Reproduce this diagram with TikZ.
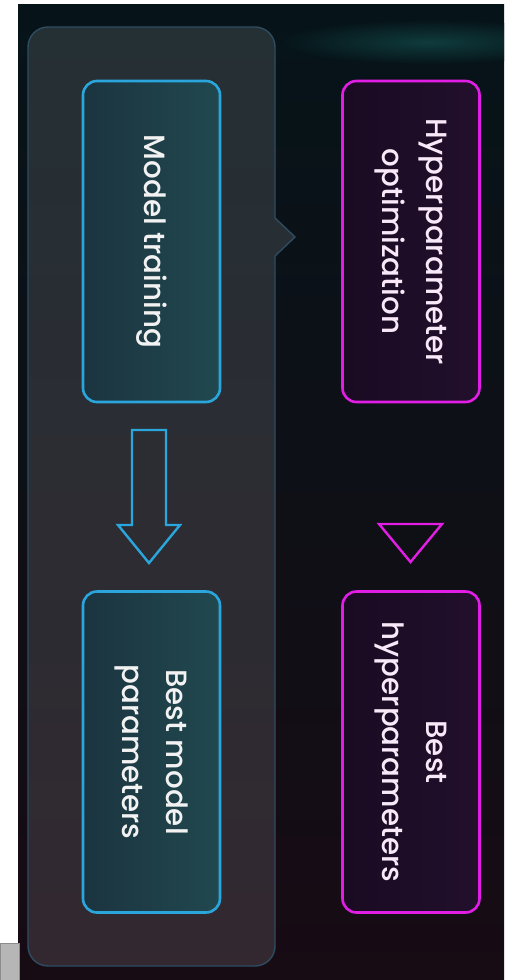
\documentclass[tikz,border=0pt]{standalone}
\usepackage{fontspec}
\setmainfont{Poppins}[UprightFont={* Medium}]
\definecolor{bgtop}{HTML}{061419}
\definecolor{bgbot}{HTML}{170B14}
\definecolor{glow}{HTML}{0F3B3C}
\definecolor{framec}{HTML}{2E4C60}
\definecolor{cyanline}{HTML}{2AA6DC}
\definecolor{magline}{HTML}{E21EE6}
\definecolor{tealL}{HTML}{1B3440}
\definecolor{tealM}{HTML}{26545A}
\definecolor{tealR}{HTML}{21484F}
\definecolor{purpL}{HTML}{1A0A22}
\definecolor{purpR}{HTML}{22102C}
\definecolor{textc}{HTML}{F2F2F2}
\definecolor{ptextc}{HTML}{F8E8F8}
\tikzset{
  label font/.style={font=\fontsize{29.3}{44}\selectfont, align=center},
  cyanbox/.style={draw=cyanline, line width=2.6pt, rounded corners=14pt,
    rotate=-90, minimum width=321pt, minimum height=137pt, inner sep=0pt,
    left color=tealL, middle color=tealM, right color=tealR, text=textc, label font},
  magbox/.style={draw=magline, line width=2.6pt, rounded corners=14pt,
    rotate=-90, minimum width=321pt, minimum height=137pt, inner sep=0pt,
    left color=purpL, right color=purpR, text=ptextc, label font},
  frame/.style={draw=framec, line width=1.4pt, fill=white, fill opacity=0.12},
  blockarrow/.style={draw=cyanline, line width=2.4pt, line join=miter},
  tri/.style={draw=magline, line width=2.4pt, line join=miter},
}
\begin{document}
\begin{tikzpicture}[x=1pt,y=1pt]
  % page and dark backdrop
  \fill[white] (0,0) rectangle (516,-980);
  \useasboundingbox (0,0) rectangle (516,-980);
  \shade[top color=bgtop, bottom color=bgbot] (18,-4) rectangle (504,-980);
  \begin{scope}
    \clip (18,-4) rectangle (504,-980);
    \shade[inner color=glow, outer color=bgtop] (430,-42) ellipse (150pt and 22pt);
  \end{scope}
  % corner tab
  \draw[fill={rgb,255:red,182;green,182;blue,182}, draw={rgb,255:red,140;green,140;blue,140}, line width=0.8pt]
    (0,-943) rectangle (19,-980);

  % outer panel with its pointer
  \draw[frame] (48,-27) -- (255,-27) arc[start angle=90, end angle=0, radius=20pt]
    -- (275,-218) -- (295,-237) -- (275,-256)
    -- (275,-946) arc[start angle=0, end angle=-90, radius=20pt]
    -- (48,-966) arc[start angle=-90, end angle=-180, radius=20pt]
    -- (28,-47) arc[start angle=180, end angle=90, radius=20pt] -- cycle;

  % boxes
  \node[cyanbox] (mt)  at (151.5,-241.5) {Model training};
  \node[cyanbox] (bmp) at (151.5,-752)   {Best model\\parameters};
  \node[magbox]  (hpo) at (411,-241.5)   {Hyperparameter\\optimization};
  \node[magbox]  (bhp) at (411,-752)     {Best\\hyperparameters};

  % hollow block arrow between the training boxes
  \draw[blockarrow] (132,-430) -- (166,-430) -- (166,-525) -- (180,-525)
    -- (149,-563) -- (118,-525) -- (132,-525) -- cycle;

  % hollow triangle between the hyperparameter boxes
  \draw[tri] (379,-524) -- (442,-524) -- (410.5,-562) -- cycle;
\end{tikzpicture}
\end{document}
